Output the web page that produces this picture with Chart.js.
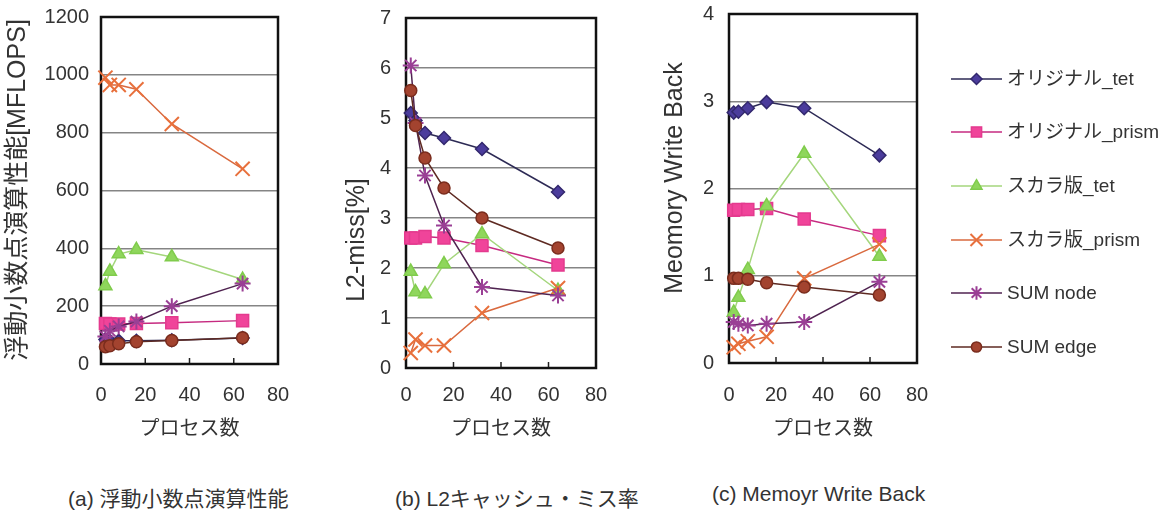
<!DOCTYPE html>
<html>
<head>
<meta charset="utf-8">
<script src="https://cdn.jsdelivr.net/npm/chart.js@4.4.1/dist/chart.umd.min.js"></script>
<style>
body { margin: 0; background: #fff; width: 1170px; height: 513px; overflow: hidden; position: relative;
       font-family: 'Liberation Sans', 'Noto Sans CJK JP', sans-serif; color: #333; }
canvas { position: absolute; top: 0; }
.cap { position: absolute; top: 482px; font-size: 21px; white-space: nowrap; color: #333; }
</style>
</head>
<body>
<canvas id="chA" width="290" height="450" style="left:0px"></canvas>
<canvas id="chB" width="280" height="450" style="left:330px"></canvas>
<canvas id="chC" width="280" height="450" style="left:650px"></canvas>
<canvas id="legend" width="240" height="400" style="left:930px"></canvas>
<div class="cap" style="left:68px">(a) 浮動小数点演算性能</div>
<div class="cap" style="left:395px">(b) L2キャッシュ・ミス率</div>
<div class="cap" style="left:712px">(c) Memoyr Write Back</div>
<script>
var FONT = "'Liberation Sans', 'Noto Sans CJK JP', sans-serif";

// process counts on the x axis
var procs = [2, 4, 8, 16, 32, 64];
var xTicks = [0, 20, 40, 60, 80];
var seriesNames = ['オリジナル_tet', 'オリジナル_prism', 'スカラ版_tet', 'スカラ版_prism', 'SUM node', 'SUM edge'];

// (a) floating point performance [MFLOPS]
var flopsTet = [85, 80, 80, 80, 82, 90];
var flopsPrism = [140, 138, 138, 140, 143, 150];
var flopsScalaTet = [270, 320, 380, 395, 370, 292];
var flopsScalaPrism = [990, 965, 965, 950, 830, 675];
var flopsNode = [95, 115, 130, 147, 200, 278];
var flopsEdge = [60, 63, 70, 77, 81, 91];

// (b) L2 cache miss rate [%]
var l2Tet = [5.1, 4.95, 4.7, 4.6, 4.38, 3.52];
var l2Prism = [2.6, 2.6, 2.63, 2.6, 2.45, 2.06];
var l2ScalaTet = [1.93, 1.52, 1.48, 2.08, 2.68, 1.55];
var l2ScalaPrism = [0.3, 0.57, 0.45, 0.45, 1.1, 1.6];
var l2Node = [6.05, 4.9, 3.85, 2.85, 1.62, 1.45];
var l2Edge = [5.55, 4.85, 4.2, 3.6, 3.0, 2.4];

// (c) memory write back
var wbTet = [2.87, 2.88, 2.92, 2.99, 2.92, 2.38];
var wbPrism = [1.75, 1.76, 1.76, 1.77, 1.65, 1.46];
var wbScalaTet = [0.58, 0.75, 1.07, 1.8, 2.4, 1.22];
var wbScalaPrism = [0.18, 0.22, 0.25, 0.3, 0.97, 1.36];
var wbNode = [0.47, 0.45, 0.43, 0.45, 0.47, 0.93];
var wbEdge = [0.97, 0.97, 0.96, 0.92, 0.87, 0.78];

var styles = [
    {pointStyle: 'rectRot', radius: 6.5, fill: '#4b3c9c', stroke: '#33286e', line: '#2d2a55', bw: 1.5},
    {pointStyle: 'rect', radius: 8.5, fill: '#f0449a', stroke: '#e43a8e', line: '#c62a80', bw: 1.5},
    {pointStyle: 'triangle', radius: 7.5, fill: '#8fd65c', stroke: '#80cc4c', line: '#a4d67c', bw: 1.5},
    {pointStyle: 'crossRot', radius: 10, fill: '#e8703c', stroke: '#e8703c', line: '#d9693e', bw: 2},
    {pointStyle: 'star', radius: 8, fill: '#9a3f95', stroke: '#9a3f95', line: '#4f2350', bw: 2},
    {pointStyle: 'circle', radius: 6, fill: '#a3432f', stroke: '#7a2c1d', line: '#5e2a22', bw: 1.5}
];

function toPoints(vals) {
    return vals.map(function(v, i) { return {x: procs[i], y: v}; });
}

// black frame round the plot, short inward ticks on the x axis, rotated y title
var framePlugin = {
    id: 'frame',
    beforeDatasetsDraw: function(chart) {
        var a = chart.chartArea, ctx = chart.ctx, xs = chart.scales.x;
        ctx.save();
        ctx.strokeStyle = '#222';
        ctx.lineWidth = 1.5;
        xTicks.slice(1, -1).forEach(function(t) {
            var px = xs.getPixelForValue(t);
            ctx.beginPath();
            ctx.moveTo(px, a.bottom);
            ctx.lineTo(px, a.bottom - 6);
            ctx.stroke();
        });
        ctx.lineWidth = 2.5;
        ctx.strokeStyle = '#111';
        ctx.strokeRect(a.left, a.top, a.right - a.left, a.bottom - a.top);
        ctx.restore();
    },
    afterDraw: function(chart, args, opts) {
        var ctx = chart.ctx;
        ctx.save();
        ctx.translate(opts.x, opts.y);
        ctx.rotate(-Math.PI / 2);
        ctx.font = '25px ' + FONT;
        ctx.fillStyle = '#333';
        ctx.textAlign = 'center';
        ctx.textBaseline = 'middle';
        ctx.fillText(opts.text, 0, 0);
        ctx.restore();
    }
};

function makeChart(id, series, yMax, yStep, yTitle, box) {
    var datasets = series.map(function(vals, i) {
        var s = styles[i];
        return {
            label: seriesNames[i],
            data: toPoints(vals),
            showLine: true,
            borderColor: s.line,
            borderWidth: 1.5,
            pointStyle: s.pointStyle,
            pointRadius: s.radius,
            pointBackgroundColor: s.fill,
            pointBorderColor: s.stroke,
            pointBorderWidth: s.bw,
            order: 6 - i,
            clip: false
        };
    });
    return new Chart(document.getElementById(id), {
        type: 'scatter',
        data: {datasets: datasets},
        plugins: [framePlugin],
        options: {
            responsive: false,
            animation: false,
            layout: {padding: {left: 0, right: box.pr, top: box.pt, bottom: 0}},
            plugins: {
                legend: {display: false},
                tooltip: {enabled: false},
                frame: {text: yTitle, x: box.tx, y: box.ty}
            },
            scales: {
                x: {
                    type: 'linear', min: 0, max: 80,
                    afterFit: function(s) { s.height = box.xh; s.paddingLeft = 0; s.paddingRight = 0; },
                    afterBuildTicks: function(s) { s.ticks = xTicks.map(function(v) { return {value: v}; }); },
                    grid: {display: false},
                    border: {display: false},
                    ticks: {color: '#333', padding: box.xp, font: {family: FONT, size: 20}},
                    title: {display: true, text: 'プロセス数', color: '#333', padding: {top: 4, bottom: 9},
                            font: {family: FONT, size: 20}}
                },
                y: {
                    min: 0, max: yMax,
                    afterFit: function(s) { s.width = box.yw; s.paddingTop = 0; s.paddingBottom = 0; },
                    grid: {color: '#858585', lineWidth: 1.5, drawTicks: false},
                    border: {display: false},
                    ticks: {stepSize: yStep, color: '#333', padding: box.yp, font: {family: FONT, size: 20},
                            callback: function(v) { return String(v); }}
                }
            }
        }
    });
}

makeChart('chA', [flopsTet, flopsPrism, flopsScalaTet, flopsScalaPrism, flopsNode, flopsEdge],
    1200, 200, '浮動小数点演算性能[MFLOPS]', {yw: 101, pr: 12, pt: 17, xh: 86, xp: 11, yp: 12, tx: 18, ty: 190});
makeChart('chB', [l2Tet, l2Prism, l2ScalaTet, l2ScalaPrism, l2Node, l2Edge],
    7, 1, 'L2-miss[%]', {yw: 76, pr: 14, pt: 18, xh: 82, xp: 7, yp: 15, tx: 27, ty: 240});
makeChart('chC', [wbTet, wbPrism, wbScalaTet, wbScalaPrism, wbNode, wbEdge],
    4, 1, 'Meomory Write Back', {yw: 79, pr: 13, pt: 14, xh: 87, xp: 12, yp: 15, tx: 25, ty: 178});

// legend: short line with the series marker, then the name
(function() {
    var ctx = document.getElementById('legend').getContext('2d');
    var rowY = [79, 132, 186, 240, 293, 347];
    styles.forEach(function(s, i) {
        var y = rowY[i];
        ctx.strokeStyle = s.line;
        ctx.lineWidth = 1.5;
        ctx.beginPath();
        ctx.moveTo(21, y);
        ctx.lineTo(72, y);
        ctx.stroke();
        ctx.fillStyle = s.fill;
        ctx.strokeStyle = s.stroke;
        ctx.lineWidth = s.bw;
        if (Chart.helpers && Chart.helpers.drawPoint) {
            Chart.helpers.drawPoint(ctx, {pointStyle: s.pointStyle, radius: s.radius * 0.85, rotation: 0, borderWidth: s.bw}, 46.5, y);
        }
        ctx.fillStyle = '#333';
        ctx.font = '19px ' + FONT;
        ctx.textBaseline = 'middle';
        ctx.fillText(seriesNames[i], 77, y + 1);
    });
})();
</script>
</body>
</html>
